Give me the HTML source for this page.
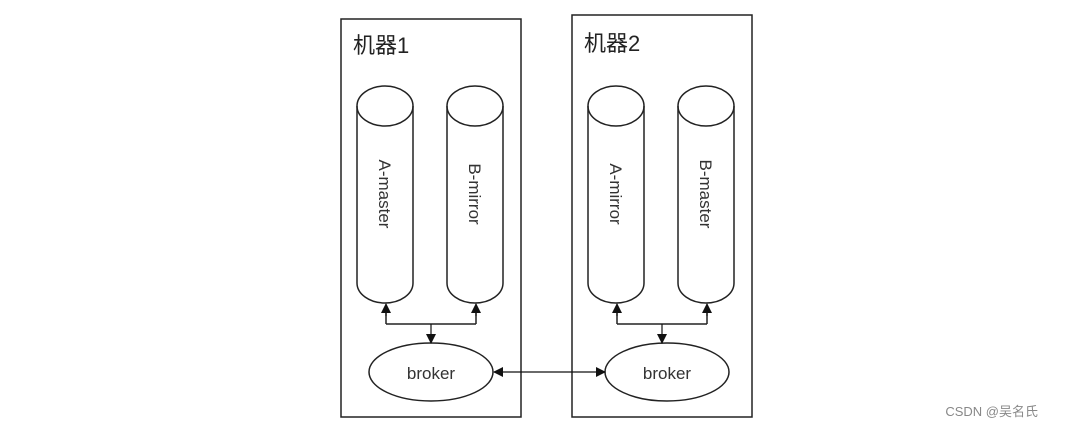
<!DOCTYPE html><html><head><meta charset="utf-8"><style>body{margin:0;background:#fff}svg{display:block}</style></head><body>
<svg width="1080" height="431" viewBox="0 0 1080 431" xmlns="http://www.w3.org/2000/svg" font-family="Liberation Sans, Noto Sans CJK SC, sans-serif">
<defs><marker id="a" markerWidth="10" markerHeight="10" refX="9" refY="5" orient="auto" markerUnits="userSpaceOnUse"><path d="M0,0 L10,5 L0,10 z" fill="#111"/></marker></defs>
<g fill="none" stroke="#222" stroke-width="1.5">
<rect x="341" y="19" width="180" height="398"/>
<rect x="572" y="15" width="180" height="402"/>
<g id="c">
<path d="M357,106 V283 A28,20 0 0 0 413,283 V106"/>
<ellipse cx="385" cy="106" rx="28" ry="20"/>
</g>
<use href="#c" transform="translate(90,0)"/>
<use href="#c" transform="translate(231,0)"/>
<use href="#c" transform="translate(321,0)"/>
<ellipse cx="431" cy="372" rx="62" ry="29"/>
<ellipse cx="667" cy="372" rx="62" ry="29"/>
<path d="M386,324 H476 M386,324 V305 M476,324 V305" />
<path d="M617,324 H707 M617,324 V305 M707,324 V305" />
</g>
<g stroke="#111" stroke-width="1.2">
<line x1="386" y1="316" x2="386" y2="304" marker-end="url(#a)"/>
<line x1="476" y1="316" x2="476" y2="304" marker-end="url(#a)"/>
<line x1="431" y1="324" x2="431" y2="343" marker-end="url(#a)"/>
<line x1="617" y1="316" x2="617" y2="304" marker-end="url(#a)"/>
<line x1="707" y1="316" x2="707" y2="304" marker-end="url(#a)"/>
<line x1="662" y1="324" x2="662" y2="343" marker-end="url(#a)"/>
<line x1="540" y1="372" x2="494" y2="372" marker-end="url(#a)"/>
<line x1="540" y1="372" x2="605" y2="372" marker-end="url(#a)"/>
</g>
<g fill="#222" font-size="22"><text x="353" y="53">机器1</text><text x="584" y="51">机器2</text></g>
<g fill="#333" font-size="17" text-anchor="middle">
<text x="431" y="379">broker</text><text x="667" y="379">broker</text>
<text transform="translate(379,194) rotate(90)">A-master</text>
<text transform="translate(469,194) rotate(90)">B-mirror</text>
<text transform="translate(610,194) rotate(90)">A-mirror</text>
<text transform="translate(700,194) rotate(90)">B-master</text>
</g>
<text x="1038" y="416" fill="#888" font-size="13" text-anchor="end">CSDN @吴名氏</text>
</svg></body></html>
